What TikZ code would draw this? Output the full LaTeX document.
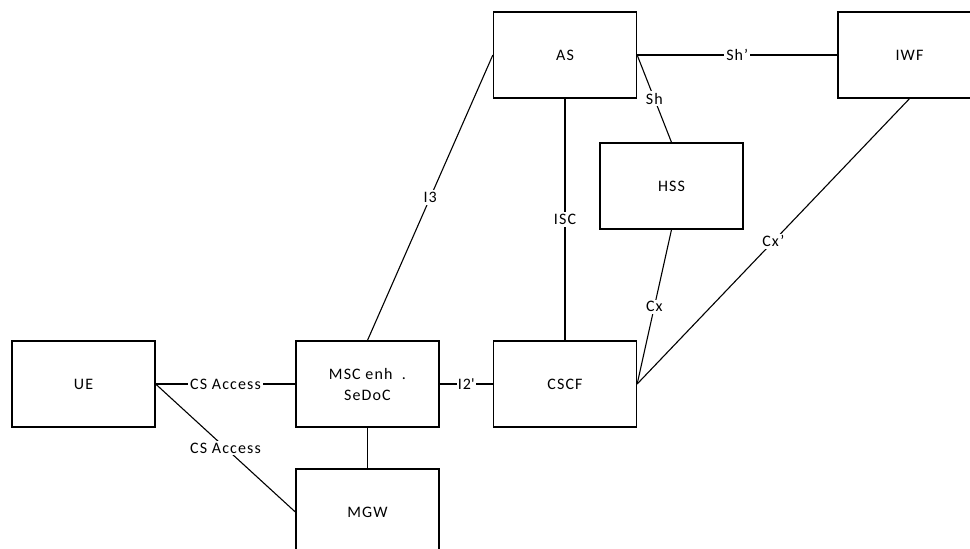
\documentclass[tikz,border=0pt]{standalone}
\usepackage{fontspec}
\setmainfont{Carlito}[LetterSpace=7]
\newcommand{\straightq}{\XeTeXglyph\numexpr\XeTeXcharglyph"27\relax}
\begin{document}
\begin{tikzpicture}[x=1pt,y=-1pt,
  box/.style={draw,line width=1.3pt,minimum width=143pt,minimum height=86pt,inner sep=0pt,align=center,font=\fontsize{16}{21}\selectfont},
  conn/.style={line width=1.1pt},
  lbl/.style={fill=white,inner sep=2pt,font=\fontsize{16}{18}\selectfont,midway}]
\useasboundingbox (0,0) rectangle (970,549);
\node[box] (UE) at (83.5,384) {UE};
\node[box] (MSC) at (367.5,384) {MSC enh\ \ .\\SeDoC};
\node[box] (CSCF) at (565,384) {CSCF};
\node[box] (MGW) at (367.5,512) {MGW};
\node[box] (AS) at (565,55) {AS};
\node[box] (IWF) at (909.5,55) {IWF};
\node[box] (HSS) at (671.5,186) {HSS};
\draw[conn] (UE.east) -- node[lbl]{CS Access} (MSC.west);
\draw[conn] (UE.east) -- node[lbl]{CS Access} (MGW.west);
\draw[conn] (MSC.east) -- node[lbl,inner sep=1pt]{I2\straightq} (CSCF.west);
\draw[conn] (MSC.north) -- node[lbl]{I3} (AS.west);
\draw[conn] (MSC.south) -- (MGW.north);
\draw[conn] (AS.south) -- node[lbl]{ISC} (CSCF.north);
\draw[conn] (AS.east) -- node[lbl]{Sh’} (IWF.west);
\draw[conn] (AS.east) -- node[lbl]{Sh} (HSS.north);
\draw[conn] (HSS.south) -- node[lbl]{Cx} (CSCF.east);
\draw[conn] (IWF.south) -- node[lbl]{Cx’} (CSCF.east);
\end{tikzpicture}
\end{document}
